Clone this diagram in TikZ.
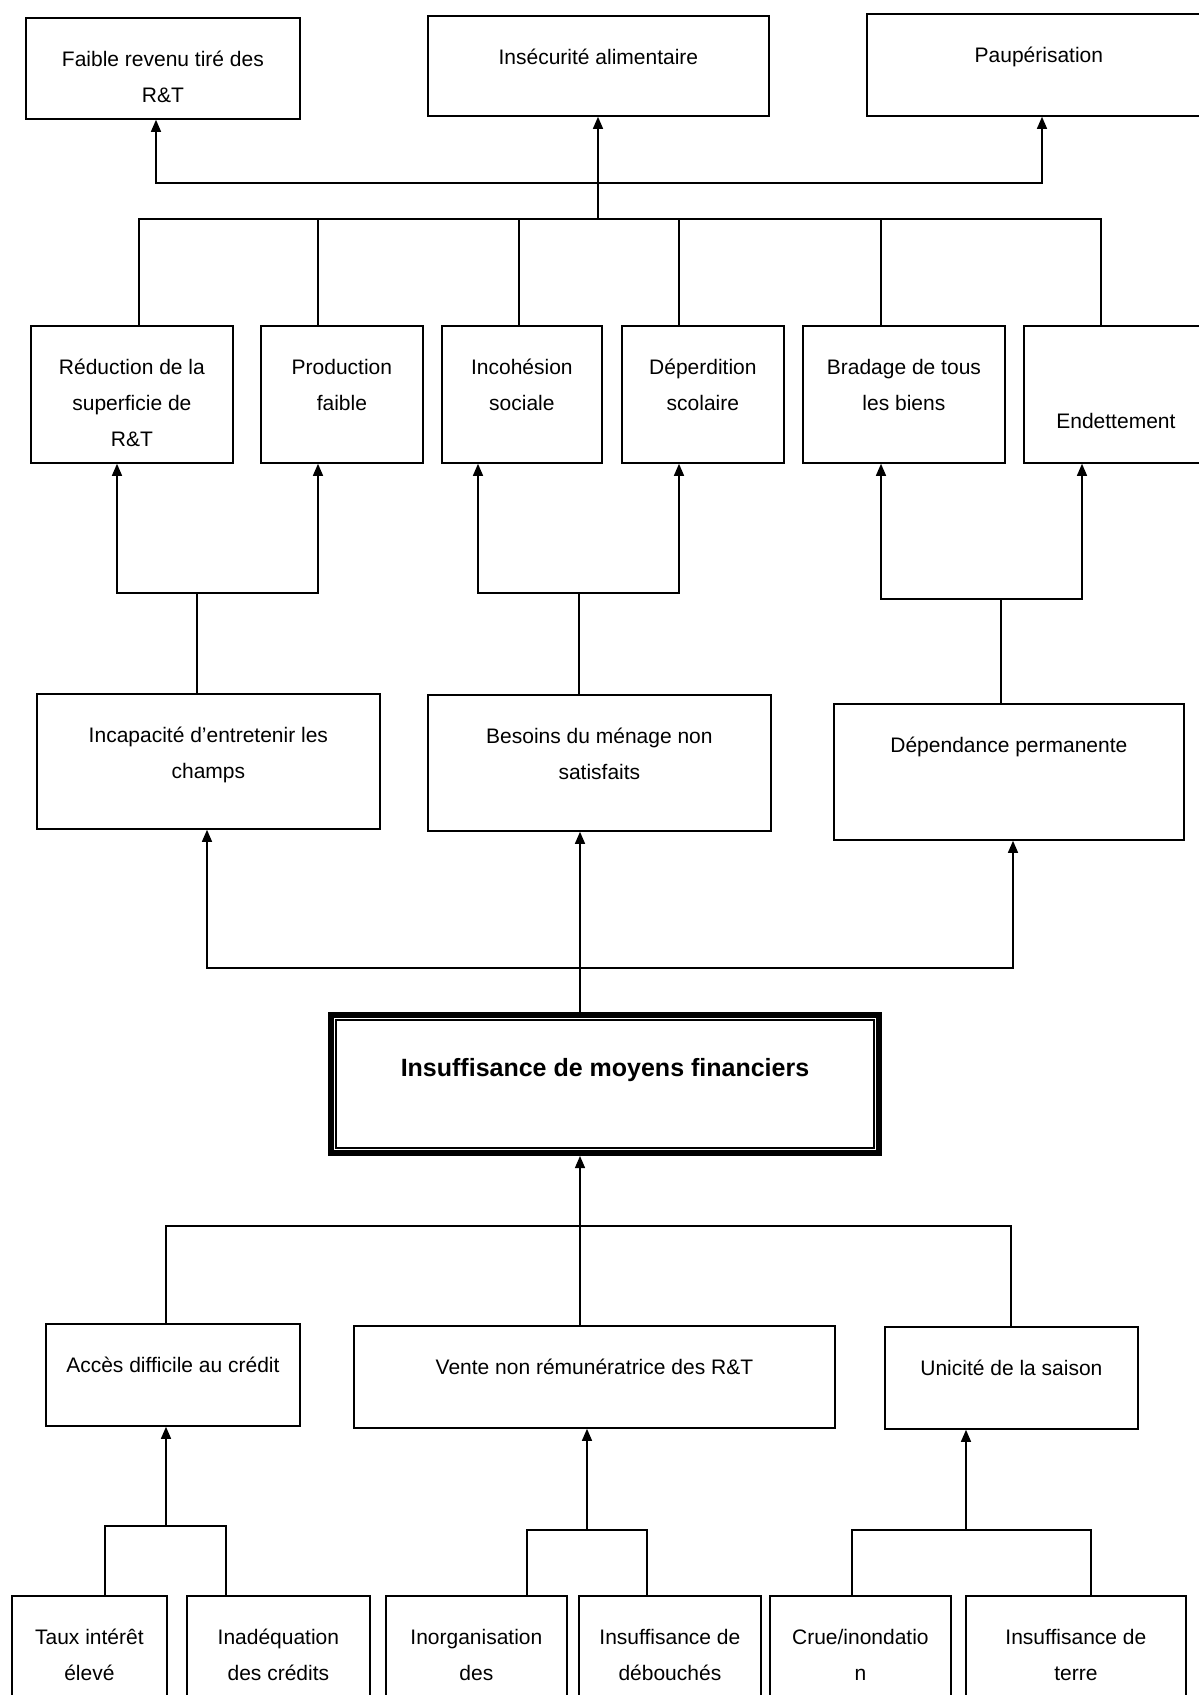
\documentclass[tikz,border=0pt]{standalone}
\usepackage{fontspec}
\setmainfont{Liberation Sans}
\usetikzlibrary{arrows.meta}
% box text: [first baseline]{width}{height}{text}
\newcommand{\cell}[4][49]{\parbox[c][#3pt][t]{#2pt}{\centering\rule{0pt}{#1pt}#4}}

\begin{document}
\begin{tikzpicture}[x=1pt,y=-1pt,
  box/.style={draw,line width=1.8pt,inner sep=0pt,anchor=north west,
    font=\fontsize{21}{36}\selectfont},
  arr/.style={line width=1.4pt,-{Triangle[width=10pt,length=12pt]}},
  lnk/.style={line width=1.4pt}]
\useasboundingbox (0,0) rectangle (1199,1695);

% effets
\node[box] (faible) at (25,17) {\cell{274}{101}{Faible revenu tiré des\\R\&T}};
\node[box] (insec) at (427,15) {\cell{341}{100}{Insécurité alimentaire}};
\node[box] (pauper) at (866,13) {\cell{344}{102}{Paupérisation}};

\node[box] (reduc) at (30,325) {\cell{202}{137}{Réduction de la\\superficie de\\R\&T}};
\node[box] (prod) at (260,325) {\cell{162}{137}{Production\\faible}};
\node[box] (incoh) at (441,325) {\cell{160}{137}{Incohésion\\sociale}};
\node[box] (deperd) at (621,325) {\cell{162}{137}{Déperdition\\scolaire}};
\node[box] (bradage) at (802,325) {\cell{202}{137}{Bradage de tous\\les biens}};
\node[box] (endet) at (1023,325) {\cell[103]{184}{137}{Endettement}};

\node[box] (incap) at (36,693) {\cell{343}{135}{Incapacité d’entretenir les\\champs}};
\node[box] (besoins) at (427,694) {\cell{343}{136}{Besoins du ménage non\\satisfaits}};
\node[box] (depend) at (833,703) {\cell{350}{136}{Dépendance permanente}};

% probleme central
\node[box,line width=6pt,font=\fontsize{25}{30}\selectfont\bfseries] (central) at (328,1012)
  {\cell[61]{548}{138}{Insuffisance de moyens financiers}};
\draw[line width=1.5pt] ([shift={(8,8)}]central.north west) rectangle ([shift={(-8,-8)}]central.south east);

% causes
\node[box] (acces) at (45,1323) {\cell{254}{102}{Accès difficile au crédit}};
\node[box] (vente) at (353,1325) {\cell{481}{102}{Vente non rémunératrice des R\&T}};
\node[box] (unicite) at (884,1326) {\cell{253}{102}{Unicité de la saison}};

\node[box] (taux) at (11,1595) {\cell{155}{115}{Taux intérêt\\élevé}};
\node[box] (inadeq) at (186,1595) {\cell{183}{115}{Inadéquation\\des crédits}};
\node[box] (inorg) at (385,1595) {\cell{181}{115}{Inorganisation\\des}};
\node[box] (debouch) at (578,1595) {\cell{182}{115}{Insuffisance de\\débouchés}};
\node[box] (crue) at (769,1595) {\cell{181}{115}{Crue/inondatio\\n}};
\node[box] (terre) at (965,1595) {\cell{220}{115}{Insuffisance de\\terre}};

% liaisons du haut
\coordinate (tb) at (598,219);
\coordinate (tf) at (598,183);
\draw[arr] (tb) -- (598,0 |- insec.south);
\draw[arr] (tf) -| (156,0 |- faible.south);
\draw[arr] (tf) -| (1042,0 |- pauper.south);
\draw[lnk] (139,0 |- reduc.north) -- (139,0 |- tb) -- (1101,0 |- tb) -- (1101,0 |- endet.north);
\foreach \x/\n in {318/prod,519/incoh,679/deperd,881/bradage}
  \draw[lnk] (\x,0 |- \n.north) -- (\x,0 |- tb);

\coordinate (f1) at (197,593);
\coordinate (f2) at (579,593);
\coordinate (f3) at (1001,599);
\draw[lnk] (197,0 |- incap.north) -- (f1);
\draw[arr] (f1) -| (117,0 |- reduc.south);
\draw[arr] (f1) -| (318,0 |- prod.south);
\draw[lnk] (579,0 |- besoins.north) -- (f2);
\draw[arr] (f2) -| (478,0 |- incoh.south);
\draw[arr] (f2) -| (679,0 |- deperd.south);
\draw[lnk] (1001,0 |- depend.north) -- (f3);
\draw[arr] (f3) -| (881,0 |- bradage.south);
\draw[arr] (f3) -| (1082,0 |- endet.south);

\coordinate (cf) at (580,968);
\draw[arr] (580,0 |- central.north) -- (580,0 |- besoins.south);
\draw[arr] (cf) -| (207,0 |- incap.south);
\draw[arr] (cf) -| (1013,0 |- depend.south);

% liaisons du bas
\coordinate (lb) at (580,1226);
\draw[arr] (lb) -- (580,0 |- central.south);
\draw[lnk] (166,0 |- acces.north) -- (166,0 |- lb) -- (1011,0 |- lb) -- (1011,0 |- unicite.north);
\draw[lnk] (lb) -- (580,0 |- vente.north);

\draw[arr] (166,1526) -- (166,0 |- acces.south);
\draw[lnk] (105,0 |- taux.north) |- (226,1526) -- (226,0 |- inadeq.north);
\draw[arr] (587,1530) -- (587,0 |- vente.south);
\draw[lnk] (527,0 |- inorg.north) |- (647,1530) -- (647,0 |- debouch.north);
\draw[arr] (966,1530) -- (966,0 |- unicite.south);
\draw[lnk] (852,0 |- crue.north) |- (1091,1530) -- (1091,0 |- terre.north);
\end{tikzpicture}
\end{document}
